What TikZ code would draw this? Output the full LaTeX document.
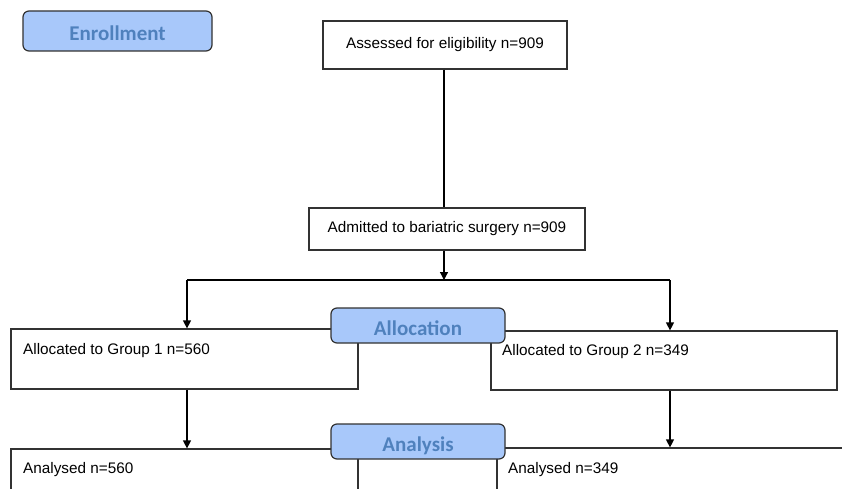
\documentclass[tikz,border=0pt]{standalone}
\usepackage{fontspec}
\setmainfont{Liberation Sans}
\newfontfamily\hdrfont{Carlito}
\usetikzlibrary{arrows.meta}
\definecolor{hdrfill}{RGB}{168,200,250}
\definecolor{hdrtext}{RGB}{79,129,189}
\definecolor{edgecol}{RGB}{50,50,50}
\begin{document}
\begin{tikzpicture}[x=1pt,y=-1pt,
 box/.style={draw=edgecol, line width=1.2pt, fill=white, rectangle, inner sep=0pt},
 hdr/.style={draw=edgecol, line width=1.2pt, fill=hdrfill, rounded corners=6pt, inner sep=0pt, font=\hdrfont\bfseries\fontsize{21}{24}\selectfont, text=hdrtext, text height=19.5pt, text depth=0pt},
 txt/.style={font=\fontsize{15.3}{18}\selectfont, inner sep=0pt, text=black},
 conn/.style={draw=black, line width=1.2pt},
 arr/.style={conn, -{Triangle[width=8pt,length=8pt]}}]
\clip (0,0) rectangle (842,489);
\fill[white] (0,0) rectangle (842,489);
% enrollment
\node[hdr, minimum width=189pt, minimum height=40pt] (enr) at (117.5,31) {Enrollment};
\node[box, txt, minimum width=244pt, minimum height=48pt] (ass) at (445,45) {Assessed for eligibility n=909};
\node[box, txt, minimum width=276pt, minimum height=42pt] (adm) at (447,229) {Admitted to bariatric surgery n=909};
% allocation
\node[box, minimum width=347pt, minimum height=60pt] (g1) at (184.5,359) {};
\node[box, minimum width=346pt, minimum height=59pt] (g2) at (664,360.5) {};
\node[txt, anchor=west] (g1t) at (23,351) {Allocated to Group 1 n=560};
\node[txt, anchor=west] (g2t) at (502,352) {Allocated to Group 2 n=349};
\node[hdr, minimum width=174pt, minimum height=35pt] (alloc) at (418,325.5) {Allocation};
% analysis
\node[box, minimum width=347pt, minimum height=81pt] (an1) at (184.5,489.5) {};
\node[box, minimum width=403pt, minimum height=82pt] (an2) at (698.5,489) {};
\node[txt, anchor=west] (an1t) at (23,470) {Analysed n=560};
\node[txt, anchor=west] (an2t) at (508,470) {Analysed n=349};
\node[hdr, minimum width=174pt, minimum height=35pt] (analysis) at (418,441.5) {Analysis};
% connectors
\coordinate (j) at (444,280);
\coordinate (jl) at (187,280);
\coordinate (jr) at (670,280);
\draw[conn] (ass.south -| j) -- (adm.north -| j);
\draw[arr] (adm.south -| j) -- (j);
\draw[conn] (jl) -- (jr);
\draw[arr] (jl) -- (jl |- g1.north);
\draw[arr] (jr) -- (jr |- g2.north);
\draw[arr] (jl |- g1.south) -- (jl |- an1.north);
\draw[arr] (jr |- g2.south) -- (jr |- an2.north);
\end{tikzpicture}
\end{document}
